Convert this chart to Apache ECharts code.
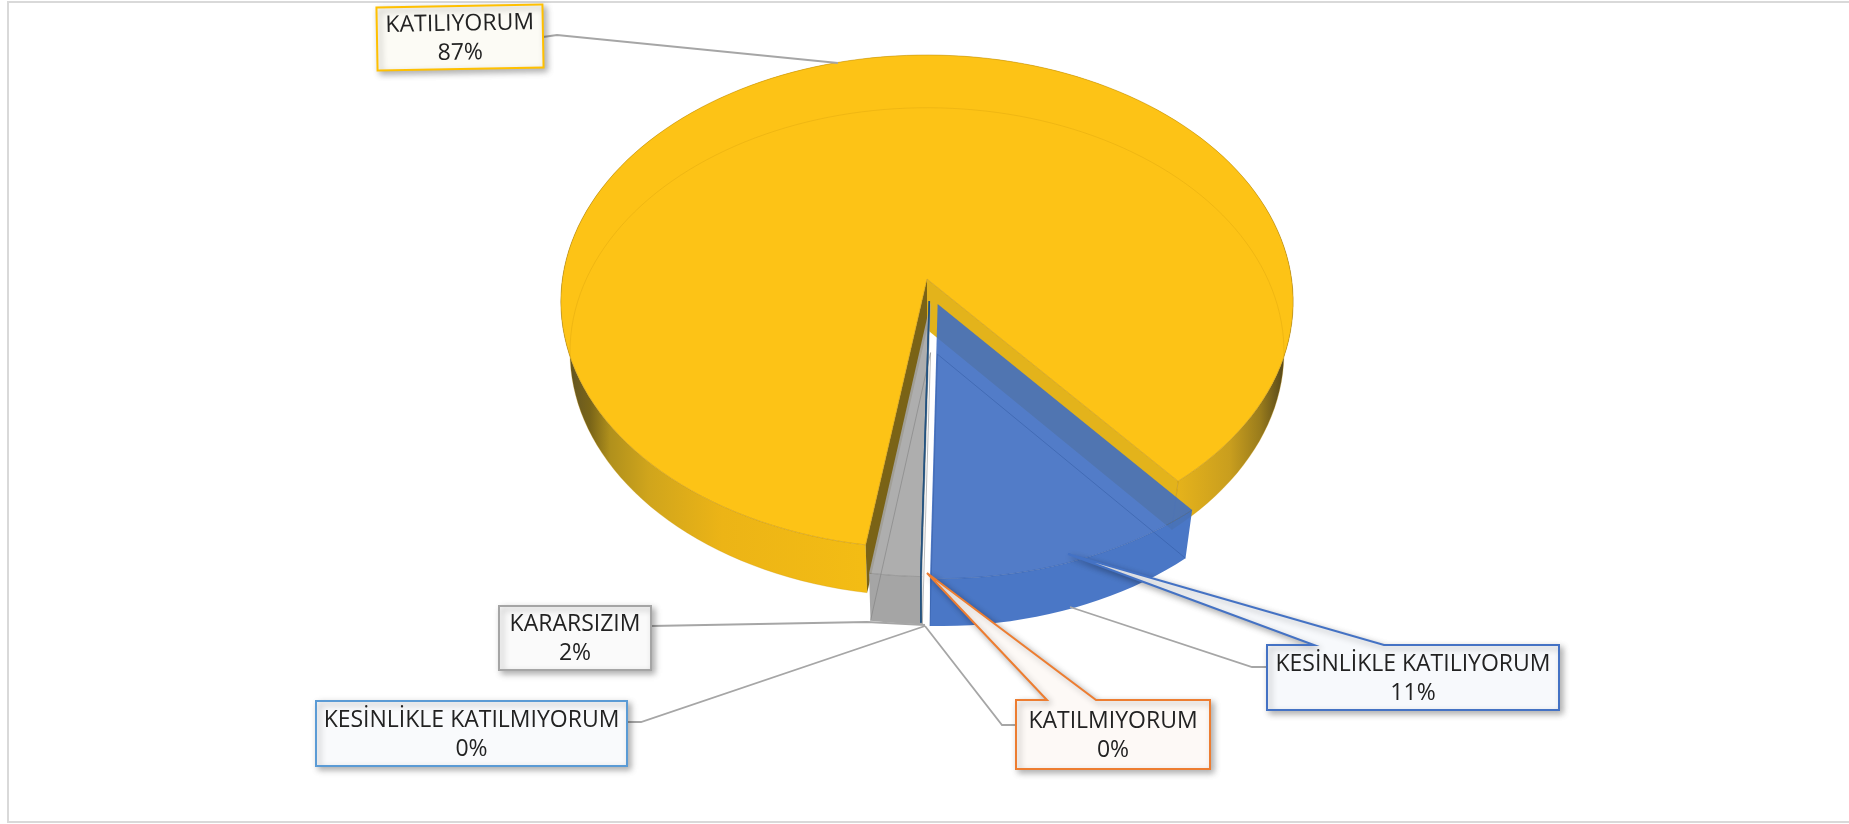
<!DOCTYPE html>
<html>
<head>
<meta charset="utf-8">
<style>
  html, body { margin: 0; padding: 0; background: #fff; }
  #chart { width: 1849px; height: 824px; }
</style>
<script src="https://cdn.jsdelivr.net/npm/echarts@6/dist/echarts.min.js"></script>
</head>
<body>
<div id="chart"></div>
<script>
const categories = ["KESİNLİKLE KATILIYORUM", "KATILMIYORUM", "KESİNLİKLE KATILMIYORUM", "KARARSIZIM", "KATILIYORUM"]
const shares = [11.4, 0, 0, 2.1, 86.5]
const sliceColors = ["#3F6EC2", "#ED7D31", "#5B9BD5", "#A5A5A5", "#FDC316"]
const drawOrder = [4, 3, 2, 1, 0]

// slice offsets, pie units: [distance, direction in degrees]
const explode = [[0.105, 164], [0.09, 176], [0.09, 176], [0.095, 174], [0, 0]]
const firstAngle = 140.2

// pie perspective
const cx = 927
const cy = 279
const rx = 364.6
const ry = 244.6
const tilt = 0.092
const depth = 50.5
const depthScaleX = 0.975
const depthScaleY = 0.99

// label boxes: left, top, right, bottom
const boxes = [
  [1267, 645, 1559, 710],
  [1016, 700, 1210, 769],
  [316, 701, 627, 766],
  [499, 606, 651, 670],
  [377, 6, 543, 69]
]
const boxBorders = ["#4472C4", "#ED7D31", "#5B9BD5", "#A5A5A5", "#FFC000"]
const boxFills = ["#F7F9FC", "#FDF9F6", "#F9FAFC", "#FAFAFA", "#FCFBF5"]
const leaders = [
  [[1267, 667], [1252, 667], [1070, 607]],
  [[1016, 725], [1002, 725], [925, 626]],
  [[627, 722], [641, 722], [925, 626]],
  [[651, 626], [867, 622], [925, 625]],
  [[543, 37], [557, 35], [838, 63]]
]
const callouts = [
  [[1314, 645], [1068, 554], [1384, 645]],
  [[1047, 700], [927, 573], [1096, 700]],
  null, null, null
]

const total = shares.reduce((a, b) => a + b, 0)
const startAngles = []
shares.reduce((angle, value, i) => {
  startAngles[i] = angle
  return angle + value / total * 360
}, firstAngle)

function project(u, v, lower) {
  const w = 1 + tilt * v
  const x = rx * u / w
  const y = -ry * v / w
  if (!lower) return [cx + x, cy + y]
  return [cx + x * depthScaleX, cy + y * depthScaleY + depth]
}

function rimPoint(deg, i, lower) {
  const [dist, dir] = explode[i]
  const a = deg * Math.PI / 180
  const d = dir * Math.PI / 180
  return project(Math.sin(a) + dist * Math.sin(d), Math.cos(a) + dist * Math.cos(d), lower)
}

function apexPoint(i, lower) {
  const [dist, dir] = explode[i]
  const d = dir * Math.PI / 180
  return project(dist * Math.sin(d), dist * Math.cos(d), lower)
}

function rim(from, to, i, lower) {
  const pts = []
  const steps = Math.max(1, Math.ceil((to - from) / 2))
  for (let s = 0; s <= steps; s++) pts.push(rimPoint(from + (to - from) * s / steps, i, lower))
  return pts
}

const yellowWall = {
  type: "linear", x: 561, y: 0, x2: 1293, y2: 0, global: true,
  colorStops: [
    { offset: 0, color: "#4e431c" },
    { offset: 0.02, color: "#6a5a20" },
    { offset: 0.04, color: "#7a6518" },
    { offset: 0.067, color: "#b0901c" },
    { offset: 0.12, color: "#d0a51c" },
    { offset: 0.22, color: "#ecb416" },
    { offset: 0.41, color: "#f3bc14" },
    { offset: 0.84, color: "#e6b31b" },
    { offset: 0.914, color: "#c99e1e" },
    { offset: 0.955, color: "#9a7c1c" },
    { offset: 0.99, color: "#50431a" },
    { offset: 1, color: "#3c3418" }
  ]
}

function polygon(points, fill, stroke, lineWidth) {
  return {
    type: "polygon",
    shape: { points },
    style: { fill, stroke: stroke || "none", lineWidth: lineWidth || 0 },
    silent: true
  }
}

function polyline(points, stroke, lineWidth) {
  return {
    type: "polyline",
    shape: { points },
    style: { fill: "none", stroke, lineWidth },
    silent: true
  }
}

function yellowSlice(i) {
  const from = startAngles[i]
  const to = from + shares[i] / total * 360
  const topApex = apexPoint(i, false)
  const lowApex = apexPoint(i, true)
  const topRim = rim(from, to, i, false)
  const lowRim = rim(from, to, i, true)
  return [
    polygon(topRim.concat(lowRim.slice().reverse()), yellowWall),
    polygon([topApex, topRim[0], lowRim[0], lowApex], "#7a6316"),
    polygon([topApex, topRim[topRim.length - 1], lowRim[lowRim.length - 1], lowApex], "#E3B31B"),
    polygon([topApex].concat(topRim), sliceColors[i], "rgba(190,140,10,0.5)", 1),
    polyline(lowRim, "rgba(205,150,10,0.28)", 1),
    polyline([lowRim[lowRim.length - 1], topRim[topRim.length - 1]], "rgba(190,140,10,0.6)", 1)
  ]
}

function cutSlice(i) {
  const from = startAngles[i]
  const to = from + shares[i] / total * 360
  const topApex = apexPoint(i, false)
  const lowApex = apexPoint(i, true)
  if (shares[i] === 0) {
    return [polyline([topApex, rimPoint(from, i, false), rimPoint(from, i, true)], "#23527F", 1.5)]
  }
  const topRim = rim(from, to, i, false)
  const lowRim = rim(from, to, i, true)
  const isGrey = i === 3
  const line = isGrey ? "rgba(120,120,120,0.5)" : "rgba(40,80,150,0.38)"
  return [
    polygon(topRim.concat(lowRim.slice().reverse()), sliceColors[i] + (isGrey ? "" : "F0")),
    polygon([topApex].concat(topRim), sliceColors[i] + "E6"),
    polyline(topRim, line, 1),
    polyline([lowApex, lowRim[0]], line, 1),
    polyline([lowApex, lowRim[lowRim.length - 1]], line, 1)
  ]
}

function renderSlice(params, api) {
  const i = api.value(0)
  return { type: "group", children: i === 4 ? yellowSlice(i) : cutSlice(i) }
}

function renderLabel(params, api) {
  const i = api.value(0)
  const [left, top, right, bottom] = boxes[i]
  const wedge = callouts[i]
  const outline = [[left, top]].concat(wedge || [], [[right, top], [right, bottom], [left, bottom]])
  const box = polygon(outline, boxFills[i], boxBorders[i], 2)
  box.style.shadowColor = "rgba(0,0,0,0.3)"
  box.style.shadowBlur = 6
  box.style.shadowOffsetX = 3
  box.style.shadowOffsetY = 3
  box.style.lineJoin = "miter"
  const text = {
    type: "text",
    silent: true,
    style: {
      x: (left + right) / 2,
      y: (top + bottom) / 2 + 1,
      text: categories[i] + "\n" + Math.round(shares[i]) + "%",
      align: "center",
      verticalAlign: "middle",
      fill: "#222",
      font: "23px 'Open Sans'",
      lineHeight: 29
    }
  }
  const group = { type: "group", children: [box, text] }
  if (i === 4) {
    group.rotation = 0.018
    group.originX = (left + right) / 2
    group.originY = (top + bottom) / 2
  }
  return { type: "group", children: [polyline(leaders[i], "#A6A6A6", 1.8), group] }
}

const chart = echarts.init(document.getElementById("chart"), null, { renderer: "canvas" })
chart.setOption({
  animation: false,
  backgroundColor: "#fff",
  graphic: [{
    type: "rect",
    silent: true,
    shape: { x: 8, y: 2, width: 1900, height: 820 },
    style: { fill: "none", stroke: "#D9D9D9", lineWidth: 2 }
  }],
  series: [
    {
      type: "custom",
      coordinateSystem: "none",
      renderItem: renderSlice,
      data: drawOrder.map(i => [i, shares[i]]),
      silent: true,
      z: 2
    },
    {
      type: "custom",
      coordinateSystem: "none",
      renderItem: renderLabel,
      data: drawOrder.map(i => [i, shares[i]]),
      silent: true,
      z: 3
    }
  ]
})
</script>
</body>
</html>
